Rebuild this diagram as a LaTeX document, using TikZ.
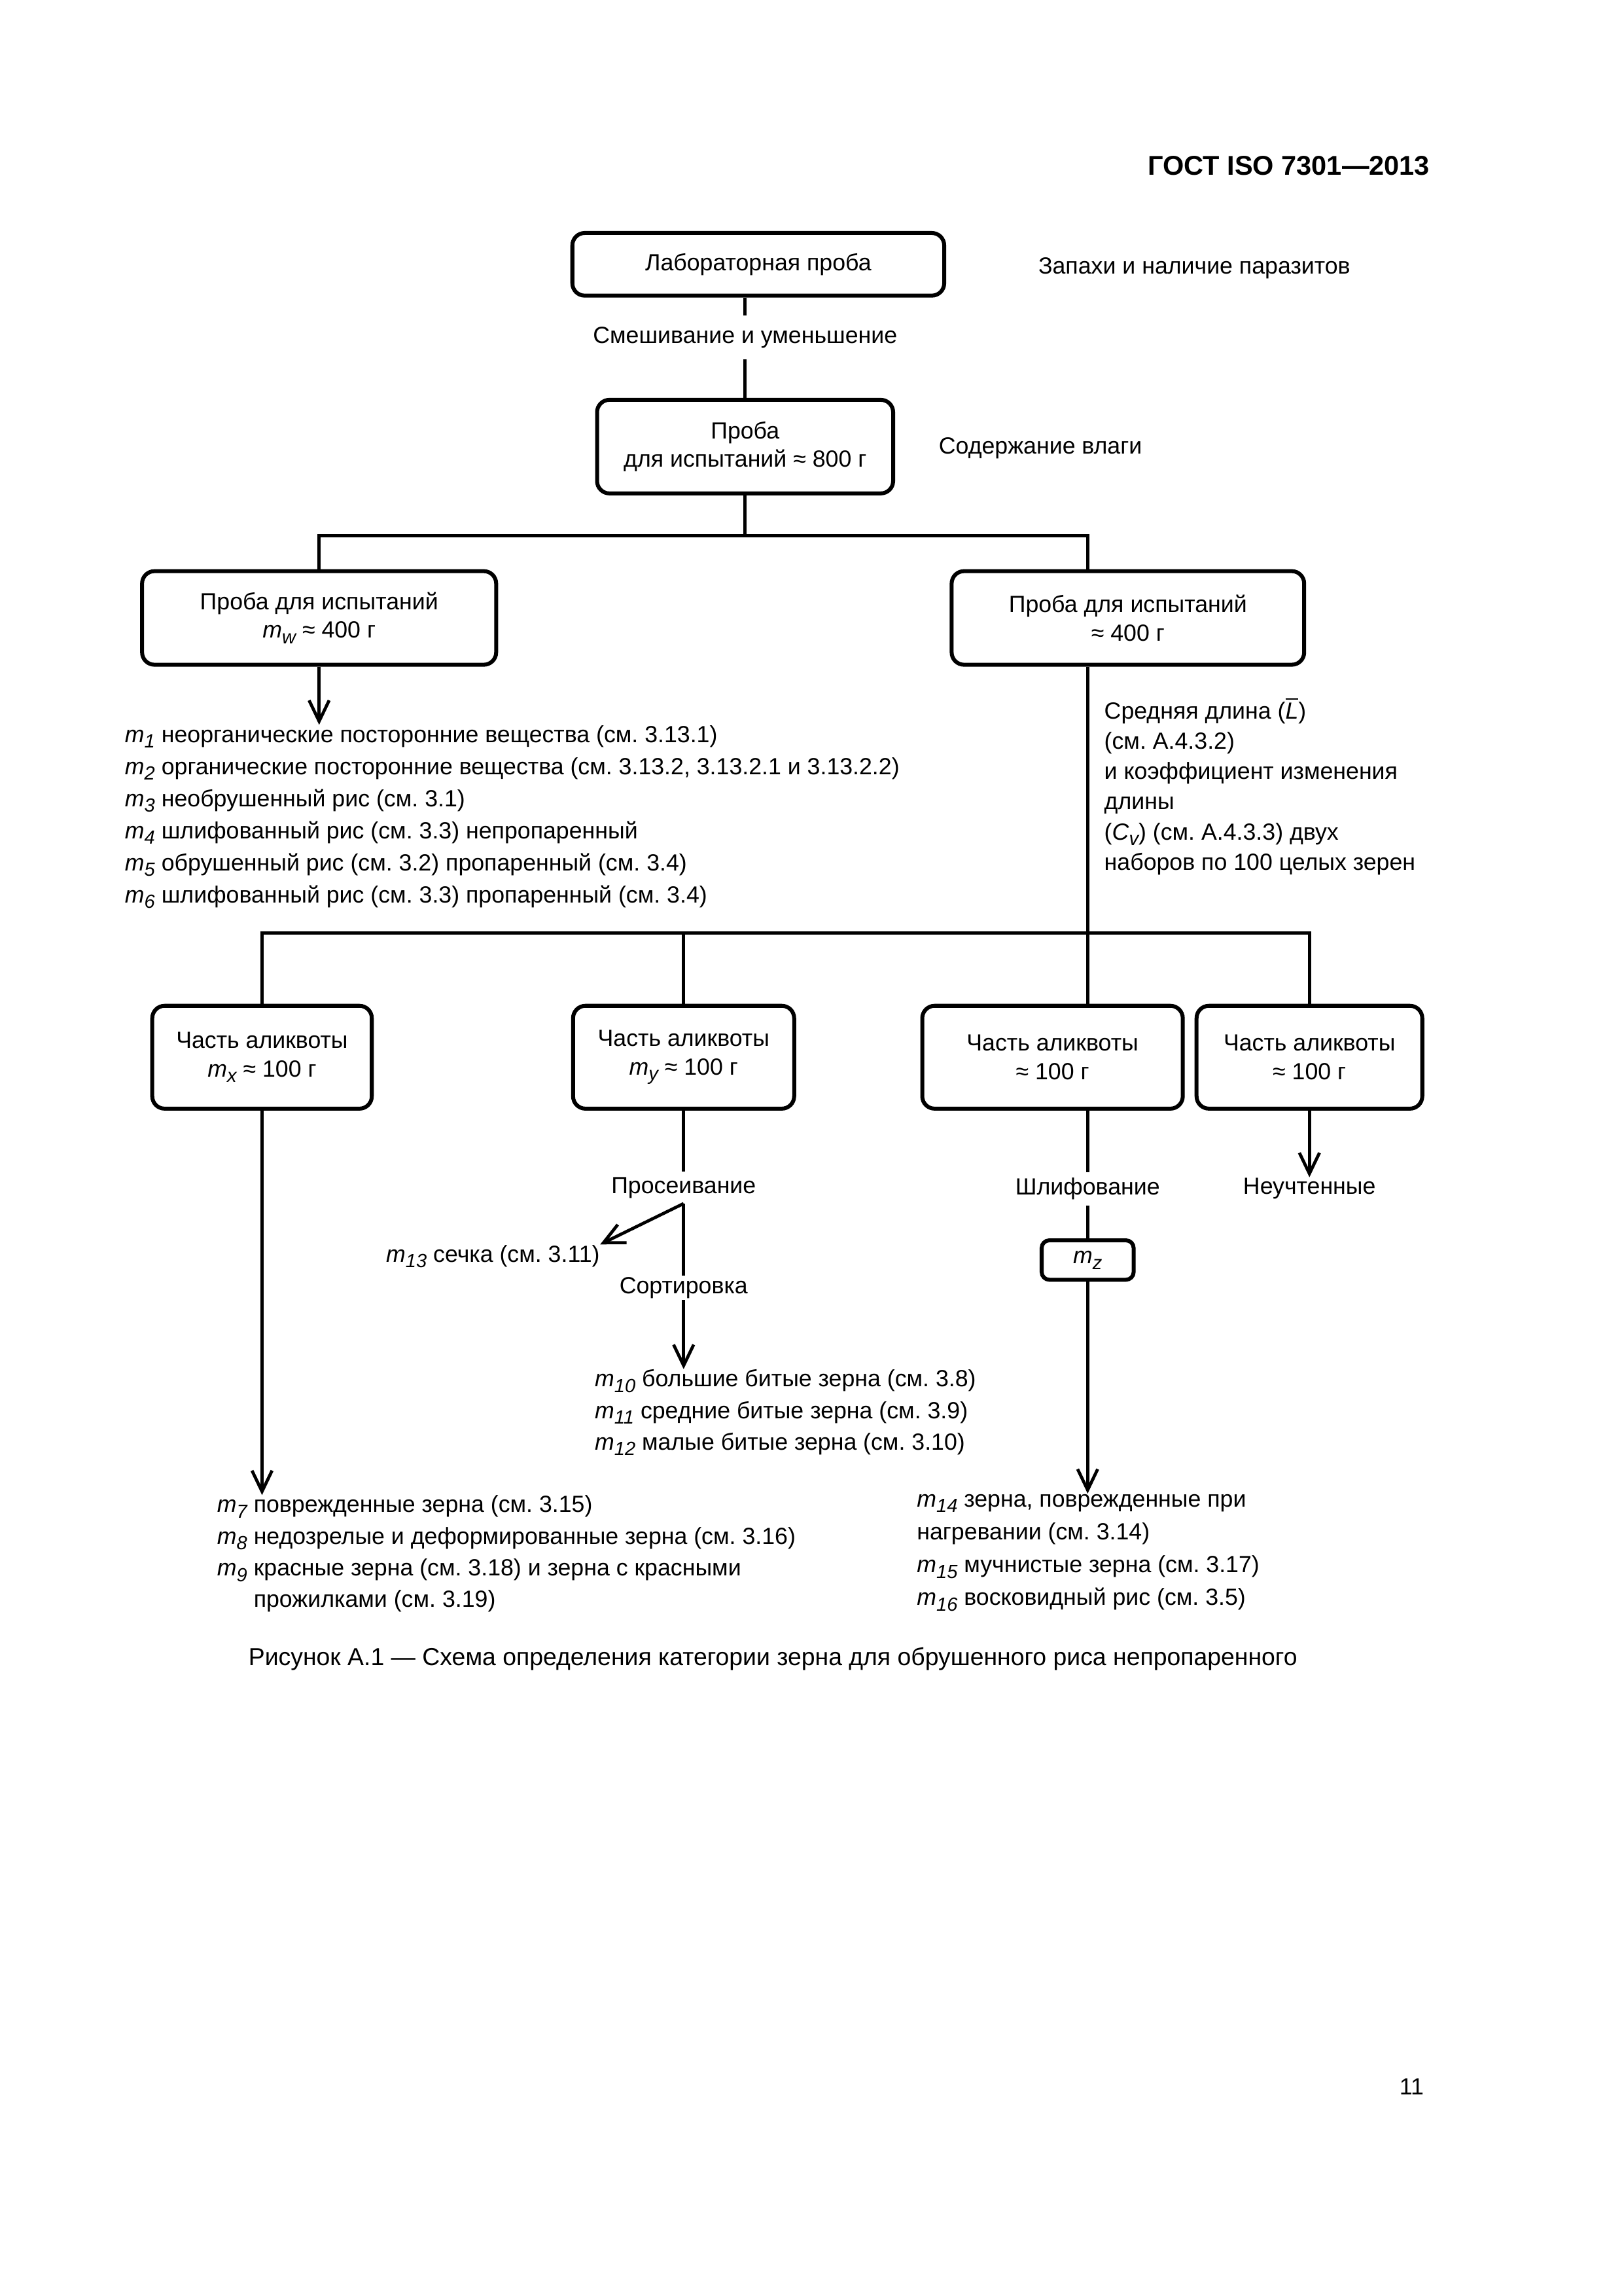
\documentclass[tikz,border=0pt]{standalone}
\usepackage{fontspec}
\setmainfont{Liberation Sans}
\usetikzlibrary{arrows.meta}
\frenchspacing

\newcommand{\lo}[1]{\raisebox{-2.1pt}{\fontsize{7}{7}\selectfont\itshape #1}}
\newcommand{\mi}[1]{\textit{m}\lo{#1}}

\begin{document}
\begin{tikzpicture}[x=0.18936mm,y=-0.18936mm,
	font=\fontsize{8.6}{11.6}\selectfont,
	box/.style={draw,line width=1.45pt,rounded corners=1.6mm,align=center,inner sep=0pt,
		font=\fontsize{8.6}{10.5}\selectfont},
	lbl/.style={inner sep=0pt,align=left},
	conn/.style={line width=1.15pt},
	arr/.style={conn,-{Straight Barb[length=2.7mm,width=2.6mm]}}]

	\useasboundingbox (0,0) rectangle (1109,1568);

	\node[anchor=east,inner sep=0pt,font=\bfseries\fontsize{10}{12}\selectfont] (gost) at (977,113) {ГОСТ ISO 7301—2013};

	\node[box,minimum width=48.1mm,minimum height=8.1mm] (lab) at (518,180.5) {Лабораторная проба};
	\node[lbl,anchor=west] (odour) at (709,183) {Запахи и наличие паразитов};
	\node[lbl,minimum height=5.5mm] (mix) at (509,230.5) {Смешивание и уменьшение};
	\node[box,minimum width=38.3mm,minimum height=12.1mm] (test) at (509,305) {Проба\\для испытаний ≈ 800 г};
	\node[lbl,anchor=west] (moist) at (641,306) {Содержание влаги};

	\node[box,minimum width=45.8mm,minimum height=12.1mm] (testw) at (218,422) {Проба для испытаний\\\mi{w} ≈ 400 г};
	\node[box,minimum width=45.6mm,minimum height=12.1mm] (testl) at (770.5,422) {Проба для испытаний\\≈ 400 г};

	\node[lbl,anchor=north west,font=\fontsize{8.6}{11.8}\selectfont] (foreign) at (85,495) {\mi{1} неорганические посторонние вещества (см. 3.13.1)\\
		\mi{2} органические посторонние вещества (см. 3.13.2, 3.13.2.1 и 3.13.2.2)\\
		\mi{3} необрушенный рис (см. 3.1)\\
		\mi{4} шлифованный рис (см. 3.3) непропаренный\\
		\mi{5} обрушенный рис (см. 3.2) пропаренный (см. 3.4)\\
		\mi{6} шлифованный рис (см. 3.3) пропаренный (см. 3.4)};
	\node[lbl,anchor=north west,font=\fontsize{8.6}{11.1}\selectfont] (length) at (754,476) {Средняя длина (\(\overline{\mbox{\itshape L}}\))\\
		(см. А.4.3.2)\\
		и коэффициент изменения\\
		длины\\
		(\textit{C}\lo{v}) (см. А.4.3.3) двух\\
		наборов по 100 целых зерен};

	\node[box,minimum width=28.4mm,minimum height=13.3mm] (partx) at (179,722) {Часть аликвоты\\\mi{x} ≈ 100 г};
	\node[box,minimum width=28.6mm,minimum height=13.3mm] (party) at (467,722) {Часть аликвоты\\\mi{y} ≈ 100 г};
	\node[box,minimum width=33.7mm,minimum height=13.3mm] (partz) at (719,722) {Часть аликвоты\\≈ 100 г};
	\node[box,minimum width=29.2mm,minimum height=13.3mm] (partu) at (894.5,722) {Часть аликвоты\\≈ 100 г};

	\node[lbl,minimum height=4mm] (sieve) at (467,811) {Просеивание};
	\node[lbl,anchor=east] (brok) at (410,858) {\mi{13} сечка (см. 3.11)};
	\node[lbl,minimum height=3mm] (sort) at (467,879.5) {Сортировка};
	\node[lbl,anchor=north west] (broken) at (406,935) {\mi{10} большие битые зерна (см. 3.8)\\
		\mi{11} средние битые зерна (см. 3.9)\\
		\mi{12} малые битые зерна (см. 3.10)};
	\node[lbl,minimum height=4.2mm] (grind) at (743,812) {Шлифование};
	\node[box,rounded corners=1mm,minimum width=11.9mm,minimum height=5.1mm] (mz) at (743,860.5) {\mi{z}};
	\node[lbl] (unacc) at (894.5,811.5) {Неучтенные};

	\node[lbl,anchor=north west] (damaged) at (148,1021) {\mi{7} поврежденные зерна (см. 3.15)\\
		\mi{8} недозрелые и деформированные зерна (см. 3.16)\\
		\mi{9} красные зерна (см. 3.18) и зерна с красными\\
		\phantom{\mi{9} }прожилками (см. 3.19)};
	\node[lbl,anchor=north west,font=\fontsize{8.6}{12.1}\selectfont] (heat) at (626,1020) {\mi{14} зерна, поврежденные при\\
		нагревании (см. 3.14)\\
		\mi{15} мучнистые зерна (см. 3.17)\\
		\mi{16} восковидный рис (см. 3.5)};

	\node[inner sep=0pt,font=\fontsize{9}{11}\selectfont] (caption) at (528,1133) {Рисунок А.1 — Схема определения категории зерна для обрушенного риса непропаренного};
	\node[anchor=east,inner sep=0pt] (page) at (973,1425) {11};

	\coordinate (t1) at (743,366);
	\coordinate (t2) at (743,637);

	\draw[conn] (lab.south -| mix) -- (mix.north);
	\draw[conn] (mix.south) -- (test.north);
	\draw[conn] (test.south) -- (test.south |- t1);
	\draw[conn] (testw.north) |- (t1) -- (testl.north -| t1);
	\draw[arr] (testw.south) -- (testw.south |- foreign.north);
	\draw[conn] (testl.south -| t1) -- (t2);
	\draw[conn] (partx.north) |- (t2) -| (partu.north);
	\draw[conn] (party.north) -- (party.north |- t2);
	\draw[conn] (t2) -- (partz.north -| t2);

	\draw[arr] (partx.south) -- (partx.south |- damaged.north);
	\draw[conn] (party.south) -- (sieve.north);
	\draw[arr] (sieve.south) -- (brok.north east);
	\draw[conn] (sieve.south) -- (sort.north);
	\draw[arr] (sort.south) -- (sort.south |- broken.north);
	\draw[conn] (partz.south -| t2) -- (grind.north);
	\draw[conn] (grind.south) -- (mz.north);
	\draw[arr] (mz.south) -- (mz.south |- heat.north);
	\draw[arr] (partu.south) -- (unacc.north);

\end{tikzpicture}
\end{document}
